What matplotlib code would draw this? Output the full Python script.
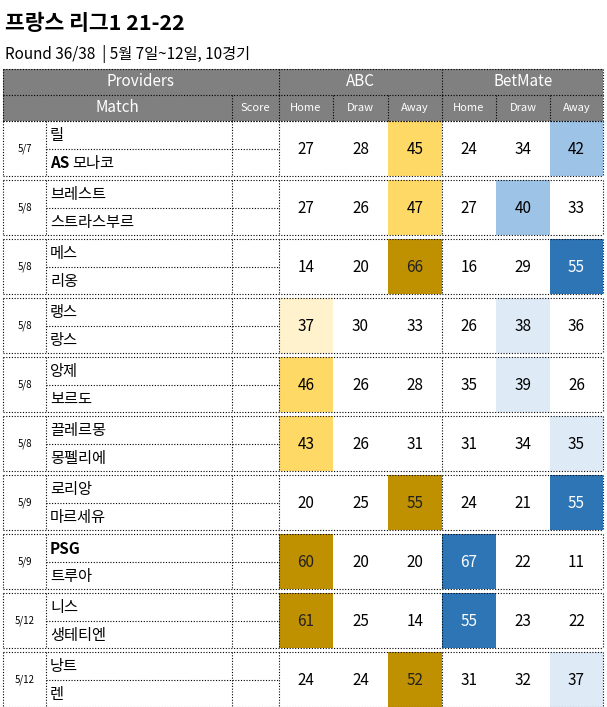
import matplotlib
matplotlib.use("Agg")
import matplotlib.pyplot as plt
from matplotlib.patches import Rectangle
from matplotlib import font_manager

cjk = [f.name for f in font_manager.fontManager.ttflist if "CJK" in f.name]
pref = [n for n in cjk if "KR" in n] + cjk
plt.rcParams["font.family"] = (pref[:1] if pref else []) + ["DejaVu Sans"]

dates = ["5/7", "5/8", "5/8", "5/8", "5/8", "5/8", "5/9", "5/9", "5/12", "5/12"]
home_teams = ["릴", "브레스트", "메스", "랭스", "앙제", "끌레르몽", "로리앙", "PSG", "니스", "낭트"]
away_teams = ["AS모나코", "스트라스부르", "리옹", "랑스", "보르도", "몽펠리에", "마르세유", "트루아", "생테티엔", "렌"]
abc_home = [27, 27, 14, 37, 46, 43, 20, 60, 61, 24]
abc_draw = [28, 26, 20, 30, 26, 26, 25, 20, 25, 24]
abc_away = [45, 47, 66, 33, 28, 31, 55, 20, 14, 52]
bm_home = [24, 27, 16, 26, 35, 31, 24, 67, 55, 31]
bm_draw = [34, 40, 29, 38, 39, 34, 21, 22, 23, 32]
bm_away = [42, 33, 55, 36, 26, 35, 55, 11, 22, 37]
providers = ["ABC", "BetMate"]
outcomes = ["Home", "Draw", "Away"]

W, H = 607, 707
fig = plt.figure(figsize=(W/100, H/100), dpi=100)
ax = fig.add_axes([0, 0, 1, 1])
ax.set_xlim(0, W); ax.set_ylim(H, 0); ax.axis("off")

ax.text(5, 24, "프랑스 리그1 21-22", fontsize=15.5, fontweight="bold", va="center", ha="left")
ax.text(5, 54, "Round 36/38  | 5월 7일~12일, 10경기", fontsize=11, va="center", ha="left")

L, R = 3, 603
xs = [3, 46, 232, 279, 333, 388, 442, 496, 550, 603]
gray = "#808080"
dot = dict(color="black", lw=0.8, ls=(0, (1, 1.5)))
ax.add_patch(Rectangle((L, 69), R-L, 52, color=gray, lw=0))
for y in (69, 95, 121):
    ax.plot([L, R], [y, y], **dot)
for x in (L, 279, 442, R):
    ax.plot([x, x], [69, 95], **dot)
for x in [L, 232] + xs[3:]:
    ax.plot([x, x], [95, 121], **dot)
ax.text((L+279)/2, 82, "Providers", color="white", fontsize=11, ha="center", va="center")
for i, p in enumerate(providers):
    x0 = 279 + i*163
    ax.text(x0+81.5, 82, p, color="white", fontsize=11, ha="center", va="center")
ax.text((L+232)/2, 108, "Match", color="white", fontsize=11, ha="center", va="center")
ax.text(255.5, 108, "Score", color="white", fontsize=8, ha="center", va="center")
for j in range(6):
    ax.text((xs[3+j]+xs[4+j])/2, 108, outcomes[j % 3], color="white", fontsize=8, ha="center", va="center")

abc_cols = ["#FFF2CC", "#FFD966", "#BF9000"]
bm_cols = ["#DEEBF7", "#9DC3E6", "#2E75B6"]
def level(v):
    return 0 if v < 40 else (1 if v < 50 else 2)

for i in range(len(dates)):
    top = 121 + i*59.0
    bot = top + 55
    mid = (top+bot)/2
    groups = [([abc_home[i], abc_draw[i], abc_away[i]], abc_cols),
              ([bm_home[i], bm_draw[i], bm_away[i]], bm_cols)]
    for g, (vals, cols) in enumerate(groups):
        mx = max(vals)
        for k, v in enumerate(vals):
            c = 3 + g*3 + k
            x0, x1 = xs[c], xs[c+1]
            tc = "black"
            if v == mx:
                lv = level(v)
                ax.add_patch(Rectangle((x0, top), x1-x0, bot-top, color=cols[lv], lw=0))
                if g == 1 and lv == 2:
                    tc = "white"
                elif lv == 2:
                    tc = "#222222"
            ax.text((x0+x1)/2, mid+1, str(v), fontsize=11, ha="center", va="center", color=tc)
    ax.plot([L, R], [top, top], **dot)
    ax.plot([L, R], [bot, bot], **dot)
    ax.plot([46, 279], [mid, mid], **dot)
    for x in (L, 46, 232, 279, 442, R):
        ax.plot([x, x], [top, bot], **dot)
    ax.text(24.5, mid, dates[i], fontsize=7, ha="center", va="center")
    for name, y in ((home_teams[i], (top+mid)/2), (away_teams[i], (mid+bot)/2)):
        if name.startswith("AS"):
            ax.text(50, y+1, "AS", fontsize=11, fontweight="bold", ha="left", va="center")
            ax.text(72, y+1, name[2:], fontsize=11, ha="left", va="center")
        else:
            fw = "bold" if name == "PSG" else "normal"
            ax.text(50, y+1, name, fontsize=11, fontweight=fw, ha="left", va="center")

fig.savefig("out.png", dpi=100)
